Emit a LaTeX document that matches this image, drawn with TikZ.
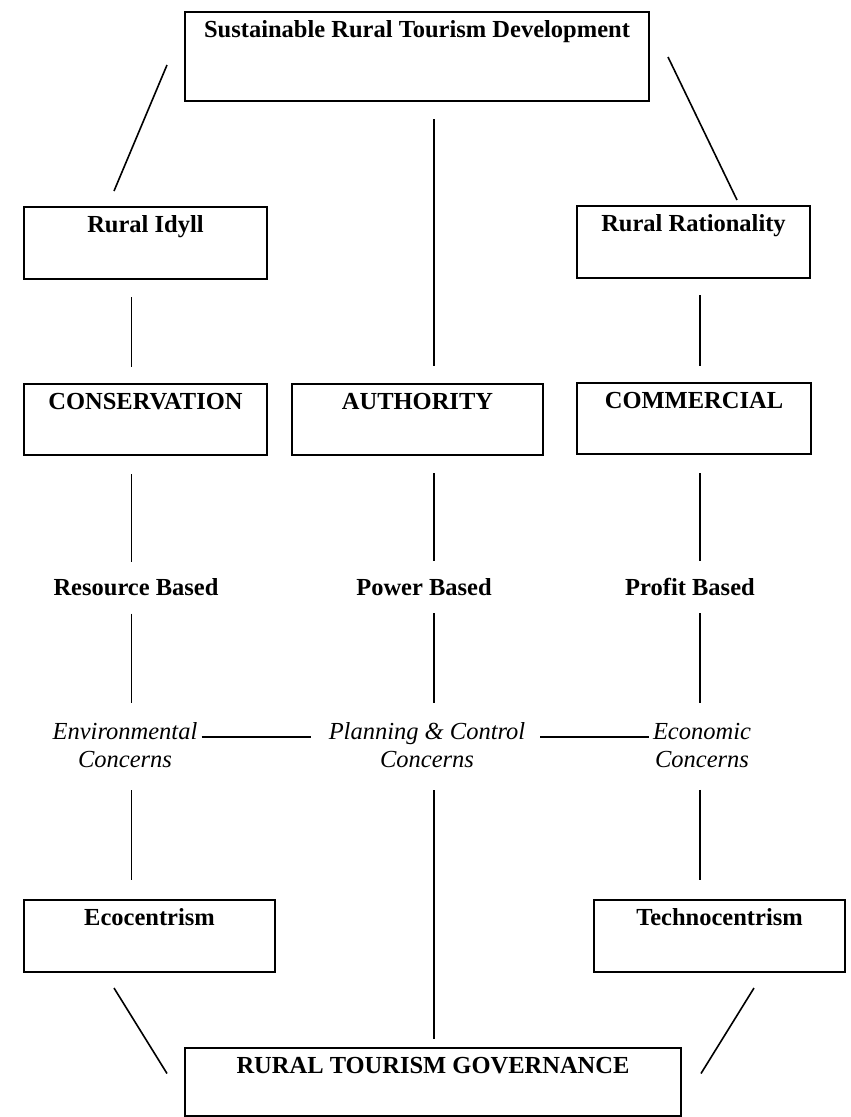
\documentclass[tikz,border=0pt]{standalone}
\usepackage{fontspec}
\setmainfont{Liberation Serif}
\usetikzlibrary{calc}
\newcommand{\fsz}{\fontsize{24.5pt}{28pt}\selectfont}
\begin{document}
\begin{tikzpicture}[x=1pt,y=-1pt,
  box/.style={draw, line width=2pt, font=\fsz\bfseries, inner xsep=0pt, inner ysep=8pt, text height=17pt, anchor=north west},
  lbl/.style={font=\fsz\bfseries, inner sep=0pt, anchor=base},
  ital/.style={font=\fsz\itshape, align=center, inner sep=0pt},
  conn/.style={line width=1.6pt}]
\useasboundingbox (0,0) rectangle (851,1117);
\fill[white] (0,0) rectangle (851,1117);

% boxes
\node[box, minimum width=464pt, minimum height=89pt, text depth=56pt] (top) at (184,11) {Sustainable Rural Tourism Development};
\node[box, minimum width=243pt, minimum height=72pt, text depth=39pt] (idyll) at (23,206) {Rural Idyll};
\node[box, minimum width=233pt, minimum height=72pt, text depth=39pt] (ration) at (576,205) {Rural Rationality};
\node[box, minimum width=243pt, minimum height=71pt, text depth=38pt] (cons) at (23,383) {CONSERVATION};
\node[box, minimum width=251pt, minimum height=71pt, text depth=38pt] (auth) at (291,383) {AUTHORITY};
\node[box, minimum width=234pt, minimum height=71pt, text depth=38pt] (comm) at (576,382) {COMMERCIAL};
\node[box, minimum width=251pt, minimum height=72pt, text depth=39pt] (eco) at (23,899) {Ecocentrism};
\node[box, minimum width=251pt, minimum height=72pt, text depth=39pt] (techno) at (593,899) {Technocentrism};
\node[box, minimum width=496pt, minimum height=68pt, text depth=35pt] (gov) at (184,1047) {RURAL TOURISM GOVERNANCE};

% plain labels
\node[lbl] (res) at (136,595) {Resource Based};
\node[lbl] (pow) at (424,595) {Power Based};
\node[lbl] (prof) at (690,595) {Profit Based};
\node[ital] (env) at (125,745.5) {Environmental\\Concerns};
\node[ital] (plan) at (427,745.5) {Planning \& Control\\Concerns};
\node[ital] (econ) at (702,745.5) {Economic\\Concerns};

% column coordinates
\coordinate (cL) at (131.5,0);
\coordinate (cM) at (434,0);
\coordinate (cR) at (700,0);
\coordinate (hy) at (0,737);

% diagonals
\draw[conn] ($(top.west)+(-17,8.5)$) -- ($(idyll.north)+(-31.5,-15)$);
\draw[conn] ($(top.east)+(18,0.5)$) -- ($(ration.north)+(43.5,-5)$);
\draw[conn] ($(eco.south)+(-35.5,15)$) -- ($(gov.west)+(-17,-8.5)$);
\draw[conn] ($(techno.south)+(34.5,15)$) -- ($(gov.east)+(19,-8.5)$);

% verticals
\draw[conn, shorten <=17pt, shorten >=17pt] (top.south -| cM) -- (auth.north -| cM);
\draw[conn, shorten <=17pt, shorten >=16pt] (idyll.south -| cL) -- (cons.north -| cL);
\draw[conn, shorten <=16pt, shorten >=16pt] (ration.south -| cR) -- (comm.north -| cR);
\draw[conn, shorten <=18pt, shorten >=16pt] (cons.south -| cL) -- (res.north -| cL);
\draw[conn, shorten <=17pt, shorten >=17pt] (auth.south -| cM) -- (pow.north -| cM);
\draw[conn, shorten <=18pt, shorten >=17pt] (comm.south -| cR) -- (prof.north -| cR);
\draw[conn, shorten <=18pt, shorten >=20pt] (res.south -| cL) -- (env.north -| cL);
\draw[conn, shorten <=18pt, shorten >=20pt] (pow.south -| cM) -- (plan.north -| cM);
\draw[conn, shorten <=18pt, shorten >=20pt] (prof.south -| cR) -- (econ.north -| cR);
\draw[conn, shorten <=22pt, shorten >=19pt] (env.south -| cL) -- (eco.north -| cL);
\draw[conn, shorten <=22pt, shorten >=8pt] (plan.south -| cM) -- (gov.north -| cM);
\draw[conn, shorten <=22pt, shorten >=19pt] (econ.south -| cR) -- (techno.north -| cR);

% horizontals
\draw[conn, shorten <=4pt, shorten >=18pt] (env.east |- hy) -- (plan.west |- hy);
\draw[conn, shorten <=15pt, shorten >=4pt] (plan.east |- hy) -- (econ.west |- hy);
\end{tikzpicture}
\end{document}
